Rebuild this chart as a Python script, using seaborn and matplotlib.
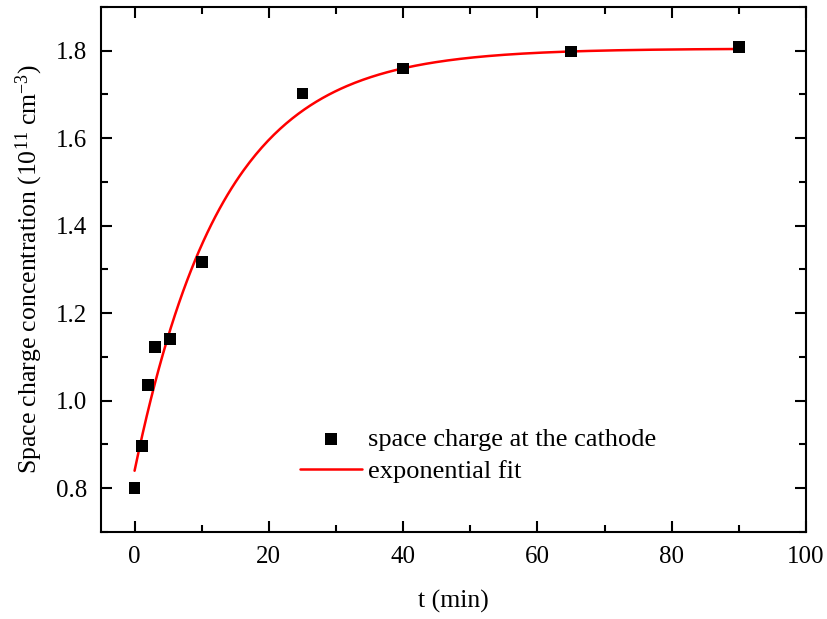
import numpy as np
import pandas as pd
import matplotlib
matplotlib.use("Agg")
import matplotlib.pyplot as plt
from matplotlib.ticker import MultipleLocator
import seaborn as sns

# Measured space charge at the cathode
t_min = [0, 1.1, 2, 3, 5.3, 10, 25, 40, 65, 90]
charge = [0.800, 0.896, 1.036, 1.123, 1.141, 1.317, 1.702, 1.759, 1.798, 1.809]

# Exponential fit parameters: y = y0 - A * exp(-t / t1)
fit_y0 = 1.805
fit_A = 0.965
fit_t1 = 13.06

x_ticks = [0, 20, 40, 60, 80, 100]
y_ticks = [0.8, 1.0, 1.2, 1.4, 1.6, 1.8]

sns.set_theme(style="ticks")
plt.rcParams["font.family"] = ["Liberation Serif", "DejaVu Serif"]
plt.rcParams["mathtext.fontset"] = "custom"
plt.rcParams["mathtext.rm"] = "Liberation Serif"
plt.rcParams["mathtext.default"] = "regular"
plt.rcParams["text.color"] = "black"

fig = plt.figure(figsize=(8.28, 6.19), dpi=100)
ax = fig.add_axes([101 / 828, 1 - 532 / 619, 705 / 828, 525 / 619])

df_pts = pd.DataFrame({"t": t_min, "n": charge})
t_fit = np.linspace(0, 90, 300)
df_fit = pd.DataFrame({"t": t_fit, "n": fit_y0 - fit_A * np.exp(-t_fit / fit_t1)})

sns.lineplot(data=df_fit, x="t", y="n", ax=ax, color="#ff0000", lw=1.8,
             label="exponential fit", zorder=2)
sns.scatterplot(data=df_pts, x="t", y="n", ax=ax, marker="s", s=70, color="black",
                edgecolor="none", label="space charge at the cathode", zorder=3)

ax.set_xlim(-5, 100)
ax.set_ylim(0.7, 1.9)
ax.set_xticks(x_ticks)
ax.set_xticklabels([str(v) for v in x_ticks])
ax.set_yticks(y_ticks)
ax.set_yticklabels([f"{v:.1f}" for v in y_ticks])
ax.xaxis.set_minor_locator(MultipleLocator(10))
ax.yaxis.set_minor_locator(MultipleLocator(0.1))

for s in ax.spines.values():
    s.set_visible(True)
    s.set_linewidth(1.5)
    s.set_color("black")

ax.tick_params(which="both", direction="in", top=True, right=True, color="black",
               width=1.5, labelsize=18, labelcolor="black")
ax.tick_params(which="major", length=8, pad=10)
ax.tick_params(which="minor", length=5)

ax.set_xlabel("t (min)", fontsize=18.5, labelpad=16, color="black")
ax.set_ylabel("Space charge concentration (10$^{11}$ cm$^{-3}$)", fontsize=18.5,
              labelpad=8, color="black")

handles, labels = ax.get_legend_handles_labels()
order = [1, 0]
ax.legend([handles[i] for i in order], [labels[i] for i in order],
          loc="upper left", bbox_to_anchor=(0.282, 0.199), frameon=False,
          fontsize=19, handlelength=2.35, handletextpad=0.23, borderpad=0,
          borderaxespad=0, labelspacing=0.32)

fig.savefig("out.png", dpi=100)
